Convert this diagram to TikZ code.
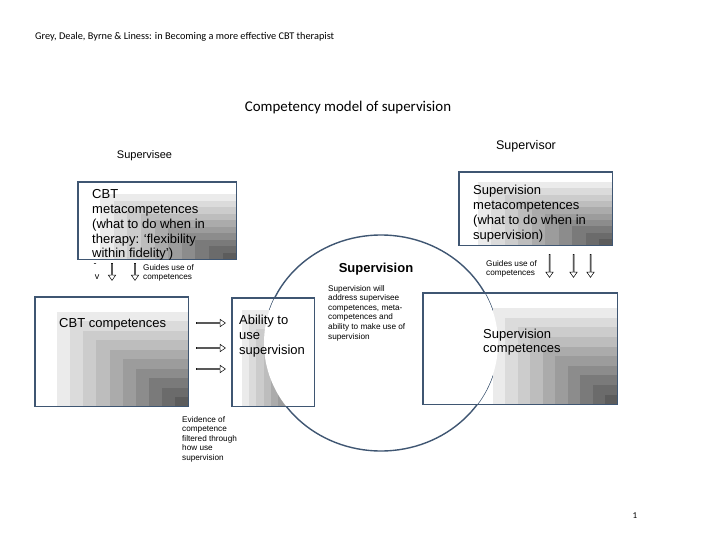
\documentclass[tikz,border=0pt]{standalone}
\usepackage{fontspec}
\setmainfont{Liberation Sans}
\newfontfamily\calibri{Carlito}
\usepackage{tikz}
\usetikzlibrary{calc,positioning,shapes.geometric,shapes.arrows}
\definecolor{slate}{HTML}{3F5672}

% stepped corner shading, lighter at #2, darkest in the south east corner of box #1
\newcommand{\shadebox}[2]{%
  \foreach \i in {0,...,9}{%
    \pgfmathtruncatemacro{\gk}{8+\i*6.3}
    \fill[black!\gk] ($(#2)!\i/10!(#1.south east)$) rectangle (#1.south east);
  }}

\begin{document}
\begin{tikzpicture}[
      x=1pt, y=-1pt,
      box/.style={draw=none, inner sep=0pt, anchor=north west},
      frame/.style={draw=slate, line width=1.4pt},
      boxtext/.style={font=\fontsize{13}{14.8}\selectfont, align=left,
                      inner sep=0pt, anchor=north west},
      note/.style={font=\fontsize{8.2}{9.6}\selectfont, align=left,
                   inner sep=0pt, anchor=north west},
      hollow/.style={single arrow, draw=black, line width=0.5pt, fill=white,
                     minimum width=7.5pt, single arrow head extend=1.6pt,
                     single arrow tip angle=70, inner sep=0pt}
    ]
    \useasboundingbox (0,0) rectangle (720,540);

    % headings
    \node[anchor=base west, inner sep=0pt, font=\calibri\fontsize{10.3}{12}\selectfont] (source) at (35,39.5)
      {Grey, Deale, Byrne \& Liness: in Becoming a more effective CBT therapist};
    \node[anchor=base, inner sep=0pt, font=\calibri\fontsize{14.9}{17}\selectfont] (title) at (348,111.5)
      {Competency model of supervision};
    \node[anchor=base, inner sep=0pt, font=\fontsize{11}{13}\selectfont] (supervisee) at (144.5,159) {Supervisee};
    \node[anchor=base, inner sep=0pt, font=\fontsize{12.5}{14}\selectfont] (supervisor) at (526,149.5) {Supervisor};

    % the supervision circle
    \node[ellipse, draw=slate, line width=1.4pt, fill=white, inner sep=0pt,
          minimum width=234pt, minimum height=216pt] (suparea) at (381,343) {};

    % boxes
    \node[box, minimum width=158pt, minimum height=77pt]  (cbtmeta)    at (78,182)  {};
    \node[box, minimum width=153pt, minimum height=73pt]  (supmeta)    at (459,172) {};
    \node[box, minimum width=153pt, minimum height=109pt] (cbtcomp)    at (35,297)  {};
    \node[box, minimum width=82pt,  minimum height=108pt] (abilitybox) at (232,298) {};
    \node[box, minimum width=194pt, minimum height=111pt] (supcomp)    at (423,293) {};

    \shadebox{cbtmeta}{100,194}
    \shadebox{supmeta}{478,182}
    \shadebox{cbtcomp}{57,312}
    \shadebox{abilitybox}{242,310}
    \shadebox{supcomp}{493,308}

    % circle stays white where it meets the boxes
    \begin{scope}
      \clip (abilitybox.north west) rectangle (abilitybox.south east)
            (supcomp.north west) rectangle (supcomp.south east);
      \fill[white] (suparea.center) ellipse [x radius=117, y radius=108];
    \end{scope}

    \foreach \b in {cbtmeta,supmeta,cbtcomp,abilitybox,supcomp}
      \draw[frame] (\b.north west) rectangle (\b.south east);

    % box texts
    \node[boxtext] (cbtmetatext) at ([xshift=14pt,yshift=-7.5pt]cbtmeta.north west)
      {CBT\\metacompetences\\(what to do when in\\therapy: `flexibility\\within fidelity')};
    \node[boxtext] (supmetatext) at ([xshift=14pt,yshift=-13pt]supmeta.north west)
      {Supervision\\metacompetences\\(what to do when in\\supervision)};
    \node[boxtext] (cbtcomptext) at ([xshift=24pt,yshift=-21.5pt]cbtcomp.north west)
      {CBT competences};
    \node[boxtext] (abilitytext) at ([xshift=7pt,yshift=-17pt]abilitybox.north west)
      {Ability to\\use\\supervision};
    \node[boxtext] (supcomptext) at ([xshift=60pt,yshift=-35.5pt]supcomp.north west)
      {Supervision\\competences};

    \node[anchor=base, inner sep=0pt, font=\bfseries\fontsize{13}{15}\selectfont] (suphead) at (376,272) {Supervision};
    \node[note] (supnote) at (328,285) {Supervision will\\address supervisee\\competences, meta-\\competences and\\ability to make use of\\supervision};
    \node[note] (evidence) at (182,416) {Evidence of\\competence\\filtered through\\how use\\supervision};
    \node[note] (guidesleft) at (143,264) {Guides use of\\competences};
    \node[note] (guidesright) at (486,260) {Guides use of\\competences};
    \node[inner sep=0pt, font=\fontsize{9}{10}\selectfont] (dash) at (95,265) {-};
    \node[inner sep=0pt, font=\fontsize{9}{10}\selectfont] (vee) at (97,277) {v};

    % hollow arrows
    \node[hollow, rotate=-90, minimum height=17pt] (down1) at (112,271.5) {};
    \node[hollow, rotate=-90, minimum height=17pt] (down2) at (135,271.5) {};
    \node[hollow, rotate=-90, minimum height=23pt] (down3) at (549.5,265.5) {};
    \node[hollow, rotate=-90, minimum height=23pt] (down4) at (573.5,265.5) {};
    \node[hollow, rotate=-90, minimum height=23pt] (down5) at (590.5,265.5) {};
    \node[hollow, minimum height=29pt] (right1) at (210.5,323) {};
    \node[hollow, minimum height=29pt] (right2) at (210.5,348) {};
    \node[hollow, minimum height=29pt] (right3) at (210.5,369) {};

    \node[anchor=base, inner sep=0pt, font=\calibri\fontsize{9}{10}\selectfont] (page) at (635,518.5) {1};
  \end{tikzpicture}
\end{document}
